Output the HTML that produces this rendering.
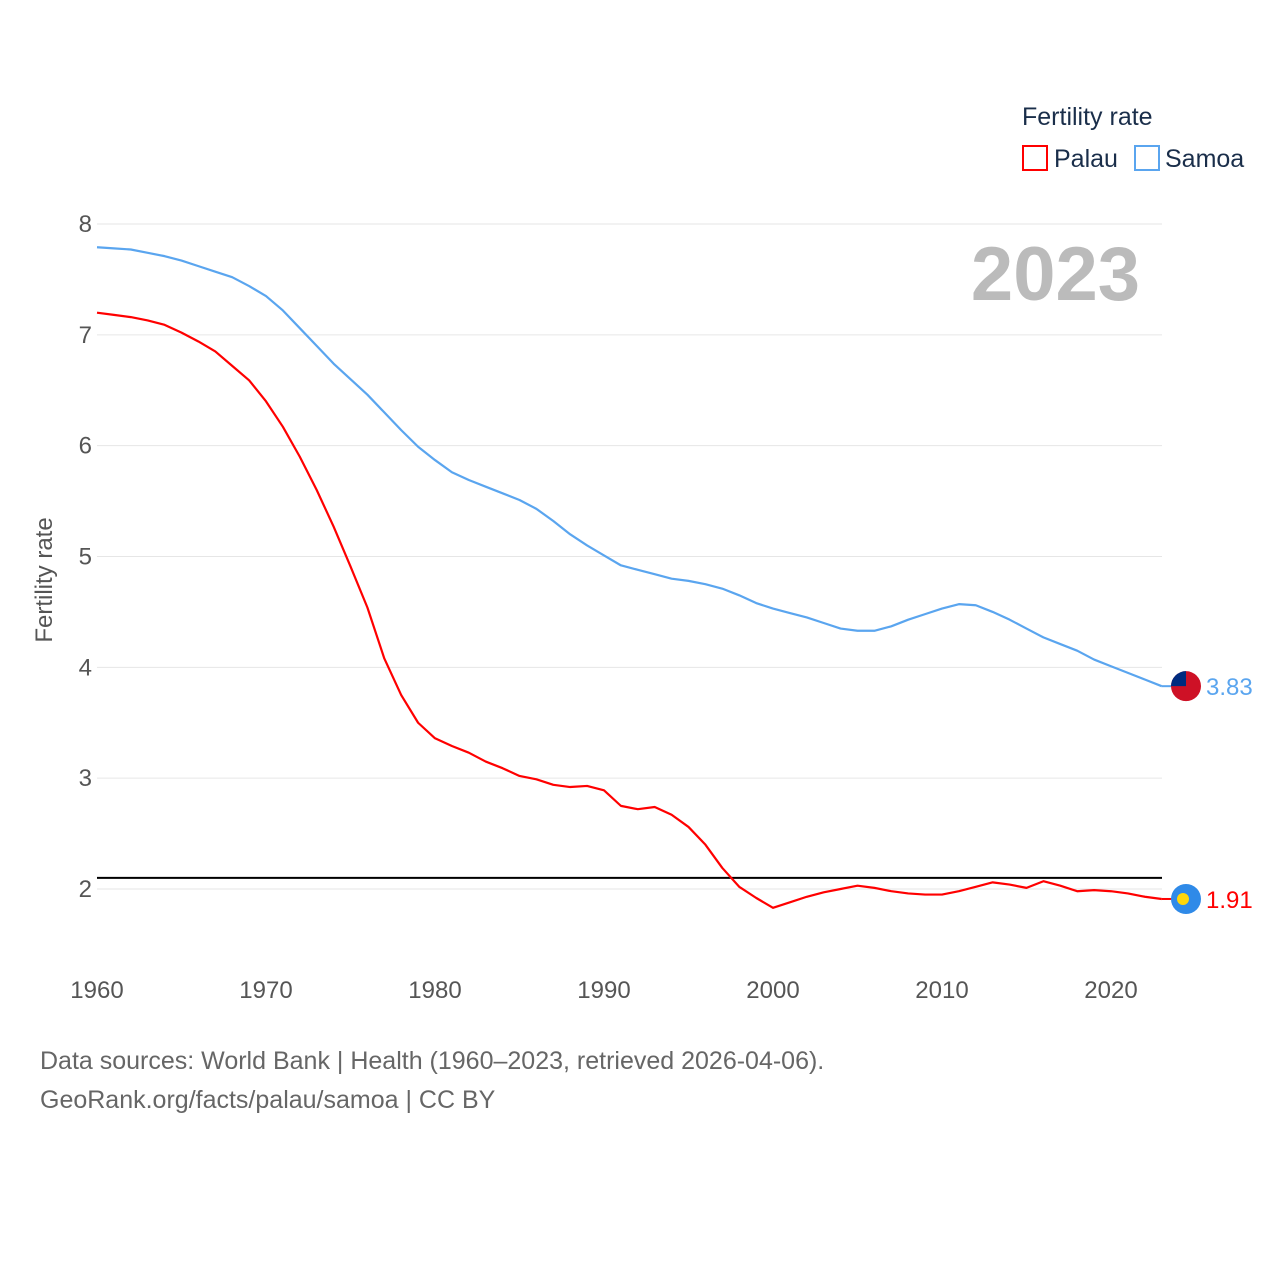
<!DOCTYPE html>
<html><head><meta charset="utf-8"><style>
body{margin:0;background:#fff;font-family:"Liberation Sans",sans-serif}
svg text{font-family:"Liberation Sans",sans-serif}
</style></head><body>
<svg id="chart" width="1280" height="1280" viewBox="0 0 1280 1280">
<g id="grid"></g>
<g id="yticks"></g>
<g id="xticks"></g>
<text x="52" y="580" transform="rotate(-90 52 580)" text-anchor="middle" font-size="24" fill="#555">Fertility rate</text>
<text x="1140" y="300" text-anchor="end" font-size="76" font-weight="bold" fill="#bbb">2023</text>
<g id="series"></g>
<g>
<text x="1022" y="125" font-size="25" fill="#1a2e4a">Fertility rate</text>
<rect x="1023" y="146" width="24" height="24" fill="none" stroke="#f00" stroke-width="2"/>
<text x="1054" y="167" font-size="25" fill="#1a2e4a">Palau</text>
<rect x="1135" y="146" width="24" height="24" fill="none" stroke="#5aa5ef" stroke-width="2"/>
<text x="1165" y="167" font-size="25" fill="#1a2e4a">Samoa</text>
</g>
<text x="40" y="1069" font-size="25" fill="#666">Data sources: World Bank | Health (1960–2023, retrieved 2026-04-06).</text>
<text x="40" y="1108" font-size="25" fill="#666">GeoRank.org/facts/palau/samoa | CC BY</text>
</svg>
<script>
const years=[];for(let y=1960;y<=2023;y++)years.push(y);
const samoa=[7.79,7.78,7.77,7.74,7.71,7.67,7.62,7.57,7.52,7.44,7.35,7.22,7.06,6.90,6.74,6.60,6.46,6.30,6.14,5.99,5.87,5.76,5.69,5.63,5.57,5.51,5.43,5.32,5.20,5.10,5.01,4.92,4.88,4.84,4.80,4.78,4.75,4.71,4.65,4.58,4.53,4.49,4.45,4.40,4.35,4.33,4.33,4.37,4.43,4.48,4.53,4.57,4.56,4.50,4.43,4.35,4.27,4.21,4.15,4.07,4.01,3.95,3.89,3.83];
const palau=[7.20,7.18,7.16,7.13,7.09,7.02,6.94,6.85,6.72,6.59,6.40,6.17,5.90,5.60,5.27,4.91,4.54,4.08,3.75,3.50,3.36,3.29,3.23,3.15,3.09,3.02,2.99,2.94,2.92,2.93,2.89,2.75,2.72,2.74,2.67,2.56,2.40,2.19,2.02,1.92,1.83,1.88,1.93,1.97,2.00,2.03,2.01,1.98,1.96,1.95,1.95,1.98,2.02,2.06,2.04,2.01,2.07,2.03,1.98,1.99,1.98,1.96,1.93,1.91];
const yTicks=[2,3,4,5,6,7,8];
const xTicks=[1960,1970,1980,1990,2000,2010,2020];
const replacement=2.1;
const NS="http://www.w3.org/2000/svg";
const X=y=>97+(y-1960)*(1161.7-97)/63;
const Y=v=>889-(v-2)*(889-224)/6;
function mk(tag,attrs,parent){const e=document.createElementNS(NS,tag);for(const k in attrs)e.setAttribute(k,attrs[k]);parent.appendChild(e);return e;}
const grid=document.getElementById('grid'),yt=document.getElementById('yticks'),xt=document.getElementById('xticks'),ser=document.getElementById('series');
yTicks.forEach(v=>{
 const l=mk('line',{x1:97,x2:1162,y1:Y(v),y2:Y(v),stroke:'#e6e6e6','stroke-width':1},grid);
 
 
 const t=mk('text',{x:92,y:Y(v)+8,'text-anchor':'end','font-size':24,fill:'#555'},yt);
 t.textContent=v;
 
 
});
xTicks.forEach(v=>{
 const t=mk('text',{x:X(v),y:998,'text-anchor':'middle','font-size':24,fill:'#555'},xt);
 t.textContent=v;
 
 
});
const ref=mk('line',{x1:97,x2:1162,y1:Y(replacement),y2:Y(replacement),stroke:'#000','stroke-width':2},ser);


function line(data,color,name){
 const p=mk('polyline',{points:data.map((v,i)=>X(years[i])+','+Y(v)).join(' '),fill:'none',stroke:color,'stroke-width':2.2,'stroke-linejoin':'round'},ser);
 
 
 const last=data[data.length-1],lx=X(years[years.length-1]),ly=Y(last);
 mk('line',{x1:lx,x2:1172,y1:ly,y2:ly,stroke:color,'stroke-width':2},ser);
 const t=mk('text',{x:1206,y:ly+9,'font-size':24,fill:color},ser);
 t.textContent=last.toFixed(2);
 
 
 return ly;
}
const sy=line(samoa,'#5aa5ef','samoa');
const py=line(palau,'#f00','palau');
// flags
const fs=mk('g',{},ser);


mk('circle',{cx:1186,cy:sy,r:15,fill:'#ce1126'},fs);
mk('path',{d:`M1171 ${sy} A15 15 0 0 1 1186 ${sy-15} L1186 ${sy} Z`,fill:'#002b7f'},fs);
const fp=mk('g',{},ser);


mk('circle',{cx:1186,cy:py,r:15,fill:'#2f8ae8'},fp);
mk('circle',{cx:1183,cy:py,r:6,fill:'#ffd60a'},fp);
</script>
</body></html>
